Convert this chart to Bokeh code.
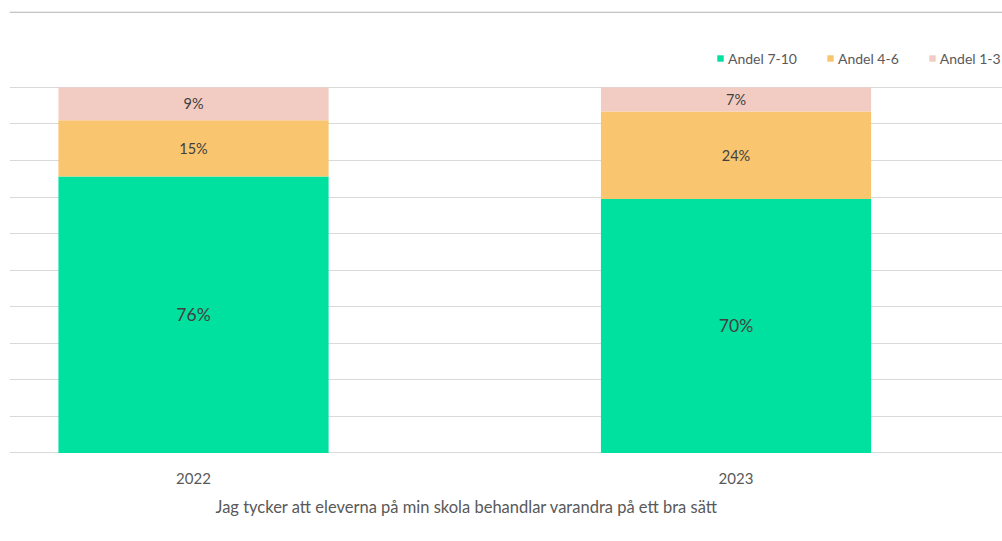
from bokeh.plotting import figure
from bokeh.models import FixedTicker, Range1d, Span, Title, ColumnDataSource
from bokeh.core.properties import value
from bokeh.embed import file_html
from bokeh.resources import INLINE

# ---- data ----
years = ["2022", "2023"]
series = ["Andel 7-10", "Andel 4-6", "Andel 1-3"]
andel_7_10 = [75.6, 69.5]
andel_4_6 = [15.4, 23.9]
andel_1_3 = [9.0, 6.6]
y_ticks = [0, 10, 20, 30, 40, 50, 60, 70, 80, 90, 100]
axis_title = "Jag tycker att eleverna på min skola behandlar varandra på ett bra sätt"

colors = ["#00E09E", "#F9C56F", "#F2CCC2"]
FONT = "Lato"

xpos = list(range(len(years)))
src = ColumnDataSource(dict(x=xpos, a=andel_7_10, b=andel_4_6, c=andel_1_3))

p = figure(width=1002, height=535, output_backend="svg", toolbar_location=None,
           x_range=Range1d(-0.3392, 1.4912), y_range=Range1d(-0.15, 120.77),
           min_border_left=9, min_border_right=0, min_border_top=11, min_border_bottom=82)
p.outline_line_color = None
p.background_fill_color = "white"
p.border_fill_color = "white"

p.vbar_stack(["a", "b", "c"], x="x", width=0.498, source=src, color=colors,
             line_color=None, legend_label=series)

# segment labels
lx, ly, lt, ls = [], [], [], []
for i in xpos:
    base = 0
    for j, vals in enumerate([andel_7_10, andel_4_6, andel_1_3]):
        v = vals[i]
        lx.append(i)
        ly.append(base + v / 2)
        lt.append(f"{round(v)}%")
        ls.append("17.5px" if j == 0 else "14.5px")
        base += v
p.text(x="x", y="y", text="t", text_font_size="s",
       source=ColumnDataSource(dict(x=lx, y=ly, t=lt, s=ls)),
       text_font=value(FONT), text_color="#404040",
       text_align="center", text_baseline="middle")

# grid
p.xgrid.grid_line_color = None
p.ygrid.grid_line_color = "#D9D9D9"
p.ygrid.grid_line_width = 1
p.yaxis.ticker = FixedTicker(ticks=y_ticks)
p.yaxis.visible = False

# top border line
p.add_layout(Span(location=120.6, dimension="width", line_color="#A0A0A0", line_width=1))

# x axis
p.xaxis.ticker = FixedTicker(ticks=xpos)
p.xaxis.major_label_overrides = {i: y for i, y in enumerate(years)}
p.xaxis.axis_line_color = None
p.xaxis.major_tick_line_color = None
p.xaxis.minor_tick_line_color = None
p.xaxis.major_tick_out = 0
p.xaxis.major_label_standoff = 19
p.xaxis.major_label_text_font = FONT
p.xaxis.major_label_text_font_size = "15px"
p.xaxis.major_label_text_color = "#595959"

p.add_layout(Title(text=axis_title, align="left", offset=206, text_font=FONT,
                   text_font_size="16.5px", text_font_style="normal",
                   text_color="#595959", standoff=16), "below")

# legend
lg = p.legend[0]
lg.orientation = "horizontal"
lg.location = (707, 385)
lg.margin = 0
lg.padding = 0
lg.border_line_color = None
lg.background_fill_alpha = 0
lg.label_text_font = FONT
lg.label_text_font_size = "14px"
lg.label_text_color = "#595959"
lg.glyph_width = 8
lg.glyph_height = 8
lg.label_standoff = 4
lg.spacing = 29
lg.label_height = 20

open("out.html", "w").write(file_html(p, INLINE))
